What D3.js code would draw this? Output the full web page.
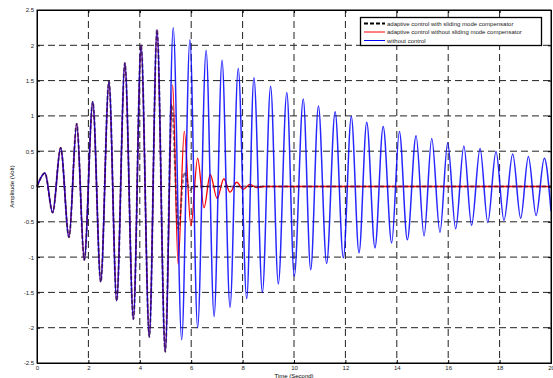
<!DOCTYPE html>
<html lang="en">
<head>
<meta charset="UTF-8">
<title>Amplitude vs Time</title>
<script src="https://d3js.org/d3.v7.min.js"></script>
<style>
  body { margin: 0; background: #fff; }
  svg { display: block; font-family: "Liberation Sans", Arial, sans-serif; }
  .tick text { font-size: 6px; fill: #222; }
  .axis path, .axis line { stroke: #000; }
</style>
</head>
<body>
<div id="chart"></div>
<script>
// extrema (time in s, amplitude in V)
// the three runs are the same until the trough just before t = 5 s
const commonTime = [0, 0.31, 0.61, 0.92, 1.245, 1.545, 1.84, 2.17, 2.48, 2.80, 3.10, 3.42, 3.75, 4.05, 4.37, 4.67, 4.99];
const commonAmp = [0, 0.19, -0.37, 0.55, -0.72, 0.89, -1.04, 1.2, -1.35, 1.49, -1.62, 1.75, -1.88, 2.0, -2.13, 2.22, -2.34];

// without control
const freeTime = [5.30, 5.63, 5.95, 6.25, 6.58, 6.89, 7.20, 7.51, 7.83, 8.16, 8.44, 8.77, 9.09, 9.39, 9.72, 10.01,
    10.36, 10.65, 10.95, 11.27, 11.60, 11.92, 12.23, 12.53, 12.83, 13.15, 13.47, 13.80, 14.10, 14.41, 14.75, 15.06,
    15.36, 15.68, 15.98, 16.29, 16.61, 16.91, 17.24, 17.54, 17.86, 18.17, 18.51, 18.82, 19.12, 19.42, 19.74, 20];
const freeAmp = [2.25, -2.17, 2.08, -2.0, 1.93, -1.84, 1.79, -1.71, 1.67, -1.59, 1.54, -1.5, 1.42, -1.38, 1.33, -1.27,
    1.24, -1.18, 1.14, -1.09, 1.06, -1.01, 0.99, -0.94, 0.91, -0.87, 0.85, -0.80, 0.78, -0.755, 0.72, -0.70,
    0.68, -0.65, 0.62, -0.60, 0.575, -0.55, 0.54, -0.51, 0.495, -0.48, 0.46, -0.45, 0.425, -0.41, 0.40, -0.35];

// adaptive control without sliding mode compensator
const noSmcTime = [5.28, 5.49, 5.73, 5.99, 6.25, 6.50, 6.74, 7.01, 7.27, 7.51, 7.77, 8.03, 8.28, 8.55, 8.8, 20];
const noSmcAmp = [1.44, -1.1, 0.78, -0.56, 0.40, -0.30, 0.17, -0.17, 0.11, -0.08, 0.06, -0.04, 0.03, -0.015, 0, 0];

// adaptive control with sliding mode compensator
const smcTime = [5.24, 5.5, 5.73, 5.95, 6.1, 20];
const smcAmp = [1.16, -0.6, 0.2, -0.05, 0, 0];

const xTicks = [0, 2, 4, 6, 8, 10, 12, 14, 16, 18, 20];
const yTicks = [-2.5, -2, -1.5, -1, -0.5, 0, 0.5, 1, 1.5, 2, 2.5];
const yTickLabels = ["-2.5", "-2", "-1.5", "-1", "-0.5", "0", "0.5", "1", "1.5", "2", "2.5"];
const legendNames = ["adaptive control with sliding mode compensator",
    "adaptive control without sliding mode compensator",
    "without control"];

const W = 553, H = 378;
const m = { left: 37, right: 551, top: 10, bottom: 363 };

const svg = d3.select("#chart").append("svg")
    .attr("width", W)
    .attr("height", H);

const x = d3.scaleLinear().domain([0, 20]).range([m.left, m.right]);
const y = d3.scaleLinear().domain([-2.5, 2.5]).range([m.bottom, m.top]);

function pairs(ts, vs) {
    return ts.map((t, i) => [t, vs[i]]);
}
const common = pairs(commonTime, commonAmp);
const free = common.concat(pairs(freeTime, freeAmp));
const noSmc = common.concat(pairs(noSmcTime, noSmcAmp));
const smc = common.concat(pairs(smcTime, smcAmp));

// grid
const grid = svg.append("g").attr("stroke", "#222").attr("stroke-width", 1).attr("stroke-dasharray", "7,4");
grid.selectAll(".vg").data(xTicks.slice(1, -1)).enter().append("line")
    .attr("x1", d => x(d)).attr("x2", d => x(d))
    .attr("y1", m.top).attr("y2", m.bottom);
grid.selectAll(".hg").data(yTicks.slice(1, -1)).enter().append("line")
    .attr("x1", m.left).attr("x2", m.right)
    .attr("y1", d => y(d)).attr("y2", d => y(d));

// lines
const line = d3.line()
    .x(d => x(d[0]))
    .y(d => y(d[1]))
    .curve(d3.curveMonotoneX);

svg.append("path").datum(noSmc)
    .attr("d", line)
    .attr("fill", "none")
    .attr("stroke", "#ff0000")
    .attr("stroke-width", 1.3);

svg.append("path").datum(free)
    .attr("d", line)
    .attr("fill", "none")
    .attr("stroke", "#0000ff")
    .attr("stroke-opacity", 0.85)
    .attr("stroke-width", 1.5);

svg.append("path").datum(smc)
    .attr("d", line)
    .attr("fill", "none")
    .attr("stroke", "#2a0030")
    .attr("stroke-opacity", 0.55)
    .attr("stroke-width", 2)
    .attr("stroke-dasharray", "4,2");

// axes, ticks pointing inward like matlab
svg.append("g")
    .attr("class", "axis")
    .attr("transform", "translate(0," + m.bottom + ")")
    .call(d3.axisBottom(x).tickValues(xTicks).tickSize(-3).tickPadding(3).tickFormat(d3.format("d")));
svg.append("g")
    .attr("class", "axis")
    .attr("transform", "translate(0," + m.top + ")")
    .call(d3.axisTop(x).tickValues(xTicks).tickSize(-3).tickFormat(""));
svg.append("g")
    .attr("class", "axis")
    .attr("transform", "translate(" + m.left + ",0)")
    .call(d3.axisLeft(y).tickValues(yTicks).tickSize(-3).tickPadding(3).tickFormat((d, i) => yTickLabels[i]));
svg.append("g")
    .attr("class", "axis")
    .attr("transform", "translate(" + m.right + ",0)")
    .call(d3.axisRight(y).tickValues(yTicks).tickSize(-3).tickFormat(""));

// box
svg.append("rect")
    .attr("x", m.left).attr("y", m.top)
    .attr("width", m.right - m.left).attr("height", m.bottom - m.top)
    .attr("fill", "none").attr("stroke", "#000").attr("stroke-width", 1);

// axis labels
svg.append("text")
    .attr("x", (m.left + m.right) / 2)
    .attr("y", 378)
    .attr("text-anchor", "middle")
    .style("font-size", "6px")
    .text("Time (Second)");

svg.append("text")
    .attr("transform", "translate(14," + ((m.top + m.bottom) / 2) + ") rotate(-90)")
    .attr("text-anchor", "middle")
    .style("font-size", "6px")
    .text("Amplitude (Volt)");

// legend
const lg = svg.append("g");
lg.append("rect")
    .attr("x", 360.5).attr("y", 17.5)
    .attr("width", 181).attr("height", 28)
    .attr("fill", "#fff").attr("stroke", "#000").attr("stroke-width", 1.3);

const legendStyle = [
    { color: "#000", width: 2, dash: "4,2" },
    { color: "#ff0000", width: 1, dash: null },
    { color: "#0000ff", width: 1, dash: null }
];
const rowY = [23.5, 32, 40.5];

legendNames.forEach(function(name, i) {
    lg.append("line")
        .attr("x1", 364).attr("x2", 385)
        .attr("y1", rowY[i]).attr("y2", rowY[i])
        .attr("stroke", legendStyle[i].color)
        .attr("stroke-width", legendStyle[i].width)
        .attr("stroke-dasharray", legendStyle[i].dash);
    lg.append("text")
        .attr("x", 387)
        .attr("y", rowY[i] + 2)
        .style("font-size", "6px")
        .attr("fill", "#222")
        .text(name);
});
</script>
</body>
</html>
